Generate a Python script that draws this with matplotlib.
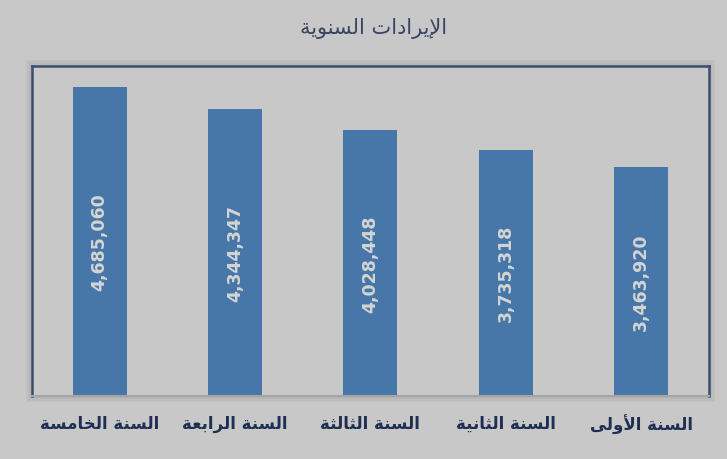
import matplotlib
matplotlib.use("Agg")
import matplotlib.pyplot as plt
from matplotlib.patches import Rectangle


# ---------------- DATA ----------------
title = "الإيرادات السنوية"
years = ["السنة الأولى", "السنة الثانية", "السنة الثالثة", "السنة الرابعة", "السنة الخامسة"]
revenues = [3463920, 3735318, 4028448, 4344347, 4685060]


# ---------------- ARABIC SHAPING ----------------
# letter: (isolated, final, initial, medial); None for right-joining letters
FORMS = {
    "ا": (0xFE8D, 0xFE8E, None, None),
    "أ": (0xFE83, 0xFE84, None, None),
    "إ": (0xFE87, 0xFE88, None, None),
    "ب": (0xFE8F, 0xFE90, 0xFE91, 0xFE92),
    "ة": (0xFE93, 0xFE94, None, None),
    "ت": (0xFE95, 0xFE96, 0xFE97, 0xFE98),
    "ث": (0xFE99, 0xFE9A, 0xFE9B, 0xFE9C),
    "خ": (0xFEA5, 0xFEA6, 0xFEA7, 0xFEA8),
    "د": (0xFEA9, 0xFEAA, None, None),
    "ر": (0xFEAD, 0xFEAE, None, None),
    "س": (0xFEB1, 0xFEB2, 0xFEB3, 0xFEB4),
    "ع": (0xFEC9, 0xFECA, 0xFECB, 0xFECC),
    "ل": (0xFEDD, 0xFEDE, 0xFEDF, 0xFEE0),
    "م": (0xFEE1, 0xFEE2, 0xFEE3, 0xFEE4),
    "ن": (0xFEE5, 0xFEE6, 0xFEE7, 0xFEE8),
    "ه": (0xFEE9, 0xFEEA, 0xFEEB, 0xFEEC),
    "و": (0xFEED, 0xFEEE, None, None),
    "ى": (0xFEEF, 0xFEF0, None, None),
    "ي": (0xFEF1, 0xFEF2, 0xFEF3, 0xFEF4),
}
LAM_ALEF = {"ا": (0xFEFB, 0xFEFC), "أ": (0xFEF7, 0xFEF8), "إ": (0xFEF9, 0xFEFA)}


def dual(ch):
    return ch in FORMS and FORMS[ch][2] is not None


def shape(text):
    out = []
    chars = list(text)
    i = 0
    while i < len(chars):
        ch = chars[i]
        prev = chars[i - 1] if i > 0 else ""
        joins_prev = dual(prev)
        if ch == "ل" and i + 1 < len(chars) and chars[i + 1] in LAM_ALEF:
            iso, fin = LAM_ALEF[chars[i + 1]]
            out.append(chr(fin if joins_prev else iso))
            i += 2
            continue
        if ch not in FORMS:
            out.append(ch)
            i += 1
            continue
        nxt = chars[i + 1] if i + 1 < len(chars) else ""
        joins_next = dual(ch) and nxt in FORMS
        iso, fin, ini, med = FORMS[ch]
        if joins_prev and joins_next:
            out.append(chr(med))
        elif joins_prev:
            out.append(chr(fin))
        elif joins_next:
            out.append(chr(ini))
        else:
            out.append(chr(iso))
        i += 1
    return "".join(out)[::-1]


# ---------------- PLOT ----------------
plt.rcParams["font.family"] = ["DejaVu Sans"]
bg = "#c8c8c8"
bar_color = "#4677a8"

fig = plt.figure(figsize=(7.27, 4.60), dpi=100, facecolor=bg)
ax = fig.add_axes([0.044, 0.137, 0.931, 0.717])
ax.set_facecolor(bg)
ax.set_zorder(2)

# soft shadow around the plot box (behind the axes)
pos = ax.get_position()
for k in range(4):
    pad = (4 - k) * 0.0035
    fig.patches.append(Rectangle((pos.x0 - pad * 0.63, pos.y0 - pad), pos.width + pad * 1.26,
                                 pos.height + pad * 2, transform=fig.transFigure,
                                 facecolor="#707070", edgecolor="none", alpha=0.06, zorder=1))

x = list(range(len(years)))
bars = ax.bar(x, revenues, width=0.4, color=bar_color, zorder=2)

for b, v in zip(bars, revenues):
    ax.text(b.get_x() + b.get_width() / 2, v / 2, f"{v:,}", rotation=90,
            ha="center", va="center", color="#d4d4d4", fontsize=12.5,
            fontweight="bold", zorder=3)

ax.set_xlim(-0.5, len(years) - 0.5)
ax.invert_xaxis()
ax.set_ylim(0, 5000000)
ax.set_yticks([])
ax.set_xticks(x)
ax.set_xticklabels([shape(y) for y in years], fontsize=12, fontweight="bold",
                   color="#1f2f52")
ax.tick_params(axis="x", length=0, pad=13)

for side in ["top", "left", "right"]:
    ax.spines[side].set_color("#3c4d70")
    ax.spines[side].set_linewidth(1.8)
ax.spines["bottom"].set_color("#a4a4a4")
ax.spines["bottom"].set_linewidth(1.5)

fig.text(0.514, 0.939, shape(title), ha="center", va="center", fontsize=15,
         color="#3a4562")

fig.savefig("out.png", dpi=100, facecolor=bg)
